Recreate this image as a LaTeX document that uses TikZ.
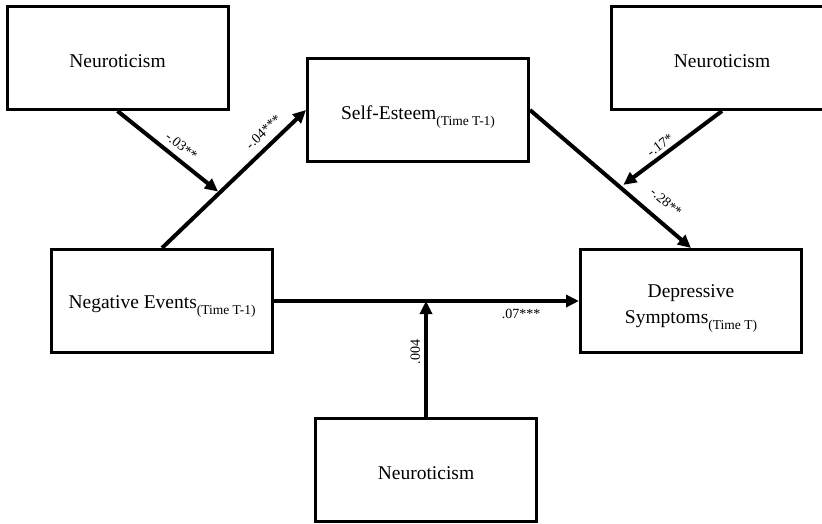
\documentclass[tikz,border=0pt]{standalone}
\usepackage{fontspec}
\setmainfont{Liberation Serif}
\usetikzlibrary{arrows.meta,calc}
\newcommand{\timesub}[1]{\raisebox{-6pt}[0pt][0pt]{\fontsize{13.5}{15}\selectfont(#1)}}
\tikzset{
    every picture/.style={
        x=1pt,y=-1pt,>={Triangle[length=13pt,width=12pt]},
        box/.style={draw,line width=3pt,minimum width=221pt,minimum height=103pt,
                    inner sep=0pt,align=center,text height=20pt,
                    font=\fontsize{19.5}{26}\selectfont},
        path/.style={->,line width=4pt},
        coef/.style={font=\fontsize{14}{16}\selectfont,sloped,inner sep=3pt}
    }
}
\begin{document}
\begin{tikzpicture}
    \useasboundingbox (0,0) rectangle (822,524);
    \node[box] (neu1)   at (117.5,58) {Neuroticism};
    \node[box] (esteem) at (418,110)  {Self-Esteem\timesub{Time T-1}};
    \node[box] (neu2)   at (722,58)   {Neuroticism};
    \node[box] (neg)    at (162,301)  {Negative Events\timesub{Time T-1}};
    \node[box,text height=50pt] (dep) at (691,301) {Depressive\\Symptoms\timesub{Time T}};
    \node[box] (neu3)   at (426,470)  {Neuroticism};
    \coordinate (m1) at ($(neg.north)!.40!(esteem.west)$);
    \coordinate (m2) at ($(esteem.east)!.56!(dep.north)$);
    \coordinate (m3) at (neu3.north |- neg.east);
    \draw[path] (neg.north) -- node[coef,pos=.77,above=4pt] {-.04***} (esteem.west);
    \draw[path,shorten >=2pt] (neu1.south) -- node[coef,pos=.55,above=3pt] {-.03**} (m1);
    \draw[path] (esteem.east) -- node[coef,pos=.77,above=9pt] {-.28**} (dep.north);
    \draw[path,shorten >=4pt] (neu2.south) -- node[coef,pos=.55,above] {-.17*} (m2);
    \draw[path] (neg.east) -- node[coef,pos=.81,below=3pt] {.07***} (dep.west);
    \draw[path] (neu3.north) -- node[coef,pos=.56,above=1pt] {.004} (m3);
\end{tikzpicture}
\end{document}
